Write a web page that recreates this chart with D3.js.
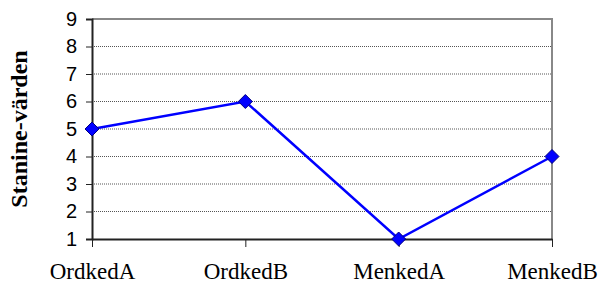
<!DOCTYPE html>
<html>
<head>
<meta charset="utf-8">
<script src="https://cdn.jsdelivr.net/npm/d3@7"></script>
<style>
  body { margin: 0; background: #fff; }
</style>
</head>
<body>
<div id="chart"></div>
<script>
const categories = ["OrdkedA", "OrdkedB", "MenkedA", "MenkedB"];
const values = [5, 6, 1, 4];
const yTicks = [1, 2, 3, 4, 5, 6, 7, 8, 9];

const margin = {top: 19, right: 49, bottom: 45, left: 92};
const width = 601 - margin.left - margin.right;
const height = 284 - margin.top - margin.bottom;

const svg = d3.select("#chart")
    .append("svg")
    .attr("width", 601)
    .attr("height", 284)
    .append("g")
    .attr("transform", `translate(${margin.left}, ${margin.top})`);

const x = d3.scalePoint()
    .domain(categories)
    .range([0, width]);

const y = d3.scaleLinear()
    .domain([1, 9])
    .range([height, 0]);

// gridlines (dotted)
svg.selectAll(".grid")
    .data(yTicks.filter(d => d > 1 && d < 9))
    .enter().append("line")
    .attr("x1", 0)
    .attr("x2", width)
    .attr("y1", d => y(d))
    .attr("y2", d => y(d))
    .attr("stroke", "#555")
    .attr("stroke-width", 1)
    .attr("stroke-dasharray", "1,1");

// top and right border
svg.append("path")
    .attr("d", `M0,${y(9)}H${width}V${height}`)
    .attr("fill", "none")
    .attr("stroke", "#888")
    .attr("stroke-width", 2);

// y axis
const yAxis = svg.append("g")
    .call(d3.axisLeft(y).tickValues(yTicks).tickSize(6).tickPadding(9).tickFormat(d3.format("d")));
yAxis.select(".domain").attr("stroke", "#222").attr("stroke-width", 2);
yAxis.selectAll(".tick line").attr("stroke", "#222");
yAxis.selectAll("text")
    .style("font-family", "'Liberation Sans', Arial, sans-serif")
    .style("font-size", "20px")
    .attr("fill", "#000");

// x axis
const xAxis = svg.append("g")
    .attr("transform", `translate(0,${height})`)
    .call(d3.axisBottom(x).tickSize(8).tickSizeOuter(0).tickPadding(16));
xAxis.select(".domain").attr("stroke", "#222").attr("stroke-width", 2);
xAxis.selectAll(".tick line").attr("stroke", "#222");
xAxis.selectAll("text")
    .style("font-family", "'Liberation Serif', 'Times New Roman', serif")
    .style("font-size", "23px")
    .attr("fill", "#000");

// y axis title
svg.append("text")
    .attr("transform", `translate(${-margin.left + 27}, ${height / 2}) rotate(-90)`)
    .attr("text-anchor", "middle")
    .style("font-family", "'Liberation Serif', 'Times New Roman', serif")
    .style("font-size", "24px")
    .style("font-weight", "bold")
    .text("Stanine-värden");

const data = categories.map((c, i) => ({cat: c, val: values[i]}));

// line
svg.append("path")
    .datum(data)
    .attr("fill", "none")
    .attr("stroke", "#0000FF")
    .attr("stroke-width", 2.5)
    .attr("d", d3.line().x(d => x(d.cat)).y(d => y(d.val)));

// diamond markers
svg.selectAll(".marker")
    .data(data)
    .enter().append("path")
    .attr("class", "marker")
    .attr("transform", d => `translate(${x(d.cat)},${y(d.val)})`)
    .attr("d", "M0,-7L7,0L0,7L-7,0Z")
    .attr("fill", "#0000FF")
    .attr("stroke", "#000080")
    .attr("stroke-width", 1);
</script>
</body>
</html>
